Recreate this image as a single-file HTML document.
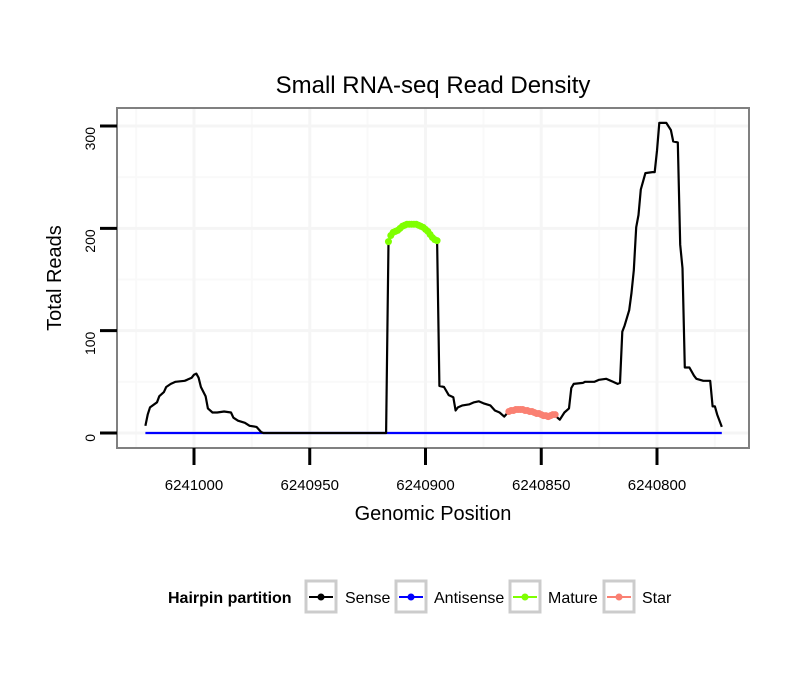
<!DOCTYPE html>
<html><head><meta charset="utf-8"><style>
body{margin:0;background:#fff;}
svg text{font-family:"Liberation Sans",sans-serif;}
</style></head><body>
<svg id="chart" width="810" height="690" xmlns="http://www.w3.org/2000/svg">
<rect width="810" height="690" fill="#fff"/>
<text x="433" y="93" font-size="24" text-anchor="middle">Small RNA-seq Read Density</text>
<g id="grid"></g>
<g id="series"></g>
<rect x="117" y="108" width="632" height="340" fill="none" stroke="#808080" stroke-width="2"/>
<g id="axes"></g>
<text x="433" y="520" font-size="20" text-anchor="middle">Genomic Position</text>
<text x="0" y="0" font-size="20" text-anchor="middle" transform="translate(61,278) rotate(-90)">Total Reads</text>
<g>
<text x="168" y="603" font-size="16" font-weight="bold">Hairpin partition</text>
<g>
<rect x="306" y="581" width="30" height="31" fill="#fff" stroke="#cccccc" stroke-width="3"/>
<line x1="309" y1="597" x2="333" y2="597" stroke="#000" stroke-width="2"/><circle cx="321" cy="597" r="3.5" fill="#000"/>
<text x="345" y="603" font-size="16">Sense</text></g>
<g>
<rect x="396" y="581" width="30" height="31" fill="#fff" stroke="#cccccc" stroke-width="3"/>
<line x1="399" y1="597" x2="423" y2="597" stroke="#0000ff" stroke-width="2"/><circle cx="411" cy="597" r="3.5" fill="#0000ff"/>
<text x="434" y="603" font-size="16">Antisense</text></g>
<g>
<rect x="510" y="581" width="30" height="31" fill="#fff" stroke="#cccccc" stroke-width="3"/>
<line x1="513" y1="597" x2="537" y2="597" stroke="#7fff00" stroke-width="2"/><circle cx="525" cy="597" r="3.5" fill="#7fff00"/>
<text x="548" y="603" font-size="16">Mature</text></g>
<g>
<rect x="604" y="581" width="30" height="31" fill="#fff" stroke="#cccccc" stroke-width="3"/>
<line x1="607" y1="597" x2="631" y2="597" stroke="#fa8072" stroke-width="2"/><circle cx="619" cy="597" r="3.5" fill="#fa8072"/>
<text x="642" y="603" font-size="16">Star</text></g>
</g>
</svg>
<script>
const xTicks=[6241000,6240950,6240900,6240850,6240800];
const xMinor=[6241025,6240975,6240925,6240875,6240825,6240775];
const yTicks=[0,100,200,300];
const yMinor=[50,150,250];
const sensePos=[6241021,6241020,6241019,6241016,6241015,6241013,6241012,6241010,6241008,6241004,6241003,6241001,6241000,6240999,6240998,6240997,6240995,6240994,6240992,6240990,6240987,6240984,6240983,6240981,6240978,6240976,6240973,6240971,6240970,6240917,6240916,6240915,6240913,6240911,6240909,6240907,6240905,6240903,6240901,6240899,6240897,6240895,6240894,6240892,6240890,6240888,6240887,6240886,6240884,6240881,6240879,6240877,6240875,6240872,6240870,6240868,6240866,6240864,6240858,6240850,6240844,6240843,6240842,6240840,6240838,6240837,6240836,6240832,6240831,6240827,6240825,6240822,6240819,6240817,6240816,6240815,6240814,6240812,6240811,6240810,6240809,6240808,6240807,6240806,6240805,6240802,6240801,6240800,6240799,6240796,6240794,6240793,6240791,6240790,6240789,6240788,6240786,6240784,6240783,6240780,6240777,6240776,6240775,6240774,6240772];
const senseReads=[7,18,25,30,36,40,45,48,50,51,52,54,57,58,54,45,36,24,20,20,21,20,15,12,10,7,6,1,0,0,187,193,197,200,203,204,204,203,201,197,191,188,46,45,37,35,22,25,27,28,30,31,29,27,22,20,16,21,23,18,18,15,13,20,24,44,48,49,50,50,52,53,50,48,49,99,105,120,137,159,201,213,238,246,254,255,255,276,303,303,296,285,284,184,161,64,64,56,53,51,51,26,26,18,6];
const antiPos=[6241021,6240772];
const antiReads=[0,0];
const maturePos=[6240916,6240915,6240914,6240913,6240912,6240911,6240910,6240909,6240908,6240907,6240906,6240905,6240904,6240903,6240902,6240901,6240900,6240899,6240898,6240897,6240896,6240895];
const matureReads=[187,193,196,197,198,200,202,203,204,204,204,204,204,203,202,201,199,197,194,191,189,188];
const starPos=[6240864,6240863,6240862,6240861,6240860,6240859,6240858,6240857,6240856,6240855,6240854,6240853,6240852,6240851,6240850,6240849,6240848,6240847,6240846,6240845,6240844];
const starReads=[21,22,22,23,23,23,23,22,22,21,21,20,19,19,18,17,17,16,17,18,18];

const NS='http://www.w3.org/2000/svg';
function xs(p){return 194+(6241000-p)/50*115.75;}
function ys(v){return 433-v*1.0233;}
function mk(tag,attrs,parent){const e=document.createElementNS(NS,tag);for(const k in attrs)e.setAttribute(k,attrs[k]);parent.appendChild(e);return e;}
const grid=document.getElementById('grid'),series=document.getElementById('series'),axes=document.getElementById('axes');
mk('rect',{x:117,y:108,width:632,height:340,fill:'#fff'},grid);
xMinor.forEach(p=>{const x=xs(p);if(x>117&&x<749){const l=mk('line',{x1:x,x2:x,y1:108,y2:448,stroke:'#f9f9f9','stroke-width':2},grid);

}});
yMinor.forEach(v=>{const y=ys(v);const l=mk('line',{x1:117,x2:749,y1:y,y2:y,stroke:'#f9f9f9','stroke-width':2},grid);

});
xTicks.forEach(p=>{const x=xs(p);const l=mk('line',{x1:x,x2:x,y1:108,y2:448,stroke:'#f5f5f5','stroke-width':3},grid);


const t=mk('line',{x1:x,x2:x,y1:448,y2:465,stroke:'#000','stroke-width':3},axes);


const tx=mk('text',{x:x,y:490,'font-size':15,'text-anchor':'middle'},axes);tx.textContent=p;

});
yTicks.forEach(v=>{const y=ys(v);const l=mk('line',{x1:117,x2:749,y1:y,y2:y,stroke:'#f5f5f5','stroke-width':3},grid);


const t=mk('line',{x1:100,x2:117,y1:y,y2:y,stroke:'#000','stroke-width':3},axes);


const tx=mk('text',{x:0,y:0,'font-size':14,'text-anchor':'end',transform:`translate(95,${y+1}) rotate(-90)`},axes);tx.textContent=v;

});
function line(pos,vals,color,name){const d=pos.map((p,i)=>(i?'L':'M')+xs(p).toFixed(1)+','+ys(vals[i]).toFixed(1)).join('');
const e=mk('path',{d:d,fill:'none',stroke:color,'stroke-width':2.2,'stroke-linejoin':'round'},series);

return e;}
function pts(pos,vals,color,name){const g=mk('g',{},series);


line(pos,vals,color,name+'-line');
pos.forEach((p,i)=>{const c=mk('circle',{cx:xs(p),cy:ys(vals[i]),r:3.5,fill:color},g);

});}
line(antiPos,antiReads,'#0000ff','antisense-line');
line(sensePos,senseReads,'#000','sense-line');
pts(maturePos,matureReads,'#7fff00','mature-series');
pts(starPos,starReads,'#fa8072','star-series');
</script>
</body></html>
